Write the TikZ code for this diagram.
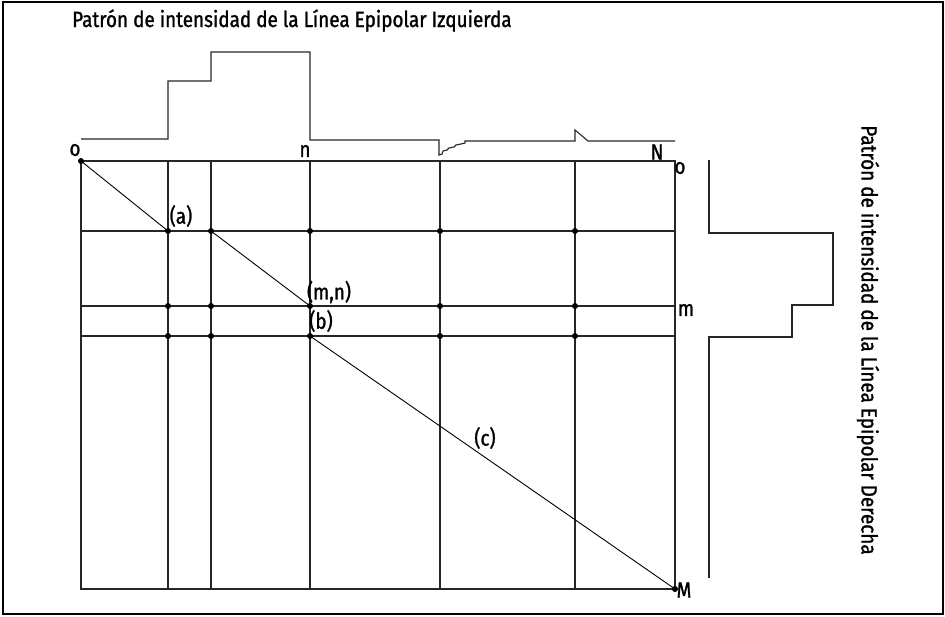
\documentclass[tikz,border=0pt]{standalone}
\usepackage{fontspec}
\setmainfont[FakeStretch=0.86, FakeBold=1.2]{Fira Sans}

\begin{document}
\begin{tikzpicture}[x=1pt, y=-1pt,
    every node/.style={font=\fontsize{22}{24}\selectfont, inner sep=0pt},
    gridline/.style={line width=1.2pt, black!85},
    diagline/.style={line width=0.9pt},
    patline/.style={line width=1.1pt, black!85},
    dot/.style={circle, fill=black, minimum size=6pt, inner sep=0pt}]

    \useasboundingbox (0,0) rectangle (945,616);
    \draw[line width=1.2pt] (3,2) rectangle (943,614);

    % Rejilla
    \foreach \x in {168,211,310,440,575} \draw[gridline] (\x,161) -- (\x,589);
    \foreach \y in {231,306,336} \draw[gridline] (81,\y) -- (675,\y);
    \draw[gridline] (81,161) rectangle (675,589);

    % Puntos
    \foreach \x/\i in {168/1,211/2,310/3,440/4,575/5}
      \foreach \y/\j in {231/a,306/b,336/c}
        \node[dot] (p\j\i) at (\x,\y) {};
    \node[dot] (o) at (81,161) {};
    \node[dot] (M) at (675,589) {};

    % Camino
    \draw[diagline] (o.center) -- (pa1.center);
    \draw[diagline] (pa2.center) -- (pb3.center);
    \draw[diagline] (pc3.center) -- (M.center);

    % Patrón izquierdo (arriba)
    \draw[patline] (81,139) -- (168,139) -- (168,81) -- (211,81) -- (211,52)
      -- (310,52) -- (310,140) -- (439,140) -- (439,155) -- (442,154)
      -- (443,151) -- (447,150) -- (449,148) -- (454,147) -- (456,145)
      -- (461,144) -- (465,143) -- (465,141) -- (575,141) -- (575,130)
      -- (588,141) -- (675,141);

    % Patrón derecho
    \draw[patline] (709,160) -- (709,233) -- (833,233) -- (833,305)
      -- (792,305) -- (792,337) -- (709,337) -- (709,578);

    % Etiquetas
    \node (lo) at (75,150) {o};
    \node (ln) at (305,151) {n};
    \node (lN) at (657,152) {N};
    \node (lo2) at (680,168) {o};
    \node (lm) at (686,310) {m};
    \node (lM) at (684,590) {M};
    \node (la) at (181,216) {(a)};
    \node (lmn) at (329,292) {(m,n)};
    \node (lb) at (321,321) {(b)};
    \node (lc) at (485,438) {(c)};

    \node[anchor=base west] (tit) at (72,27)
      {Patrón de intensidad de la Línea Epipolar Izquierda};
    \node[rotate=-90] (der) at (868,340)
      {Patrón de intensidad de la Línea Epipolar Derecha};
\end{tikzpicture}
\end{document}
